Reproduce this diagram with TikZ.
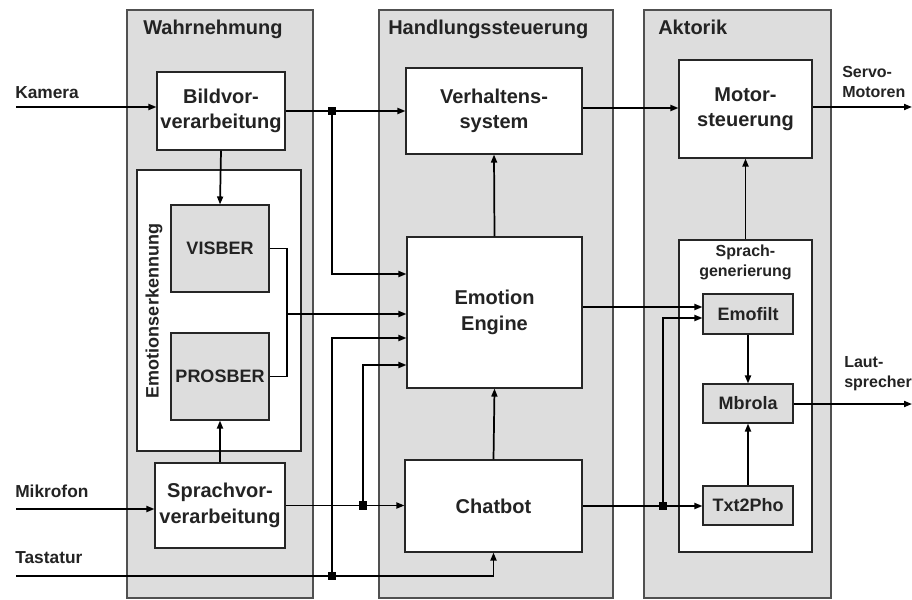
\documentclass[tikz,border=0pt]{standalone}
\usepackage{fontspec}
\setmainfont{Liberation Sans}
\usepackage{tikz}
\usetikzlibrary{arrows.meta}

\definecolor{panelgray}{RGB}{221,221,221}
\definecolor{textgray}{RGB}{35,35,35}
\definecolor{framegray}{RGB}{80,80,80}

\begin{document}
\begin{tikzpicture}[x=0.75pt, y=-0.75pt,
    panel/.style={fill=panelgray, draw=framegray, line width=0.8pt},
    title/.style={anchor=base west, inner sep=0pt, text=textgray, font=\fontsize{15}{18}\selectfont\bfseries},
    block/.style={draw=black!85, line width=0.8pt, fill=white, align=center, inner sep=0pt, text=textgray, font=\fontsize{15}{19}\selectfont\bfseries},
    subblock/.style={block, fill=panelgray, font=\fontsize{13.5}{16}\selectfont\bfseries},
    signal/.style={anchor=base west, inner sep=0pt, text=textgray, font=\fontsize{13}{16}\selectfont\bfseries},
    outlabel/.style={anchor=west, inner sep=0pt, align=left, text=textgray, font=\fontsize{12}{15}\selectfont\bfseries},
    line/.style={line width=1.3pt},
    arr/.style={line, -{Triangle[length=6pt, width=4.5pt]}},
    dot/.style={fill=black, inner sep=0pt, minimum size=6.5pt}]

    \useasboundingbox (0,0) rectangle (912,599);

    % Panels
    \fill[white] (0,0) rectangle (912,599);
    \draw[panel] (127,10) rectangle (313,598);
    \draw[panel] (379,10) rectangle (613,598);
    \draw[panel] (644,10) rectangle (831,598);
    \node[title] (wahr) at (143,35) {Wahrnehmung};
    \node[title] (handl) at (388,35) {Handlungssteuerung};
    \node[title] (akt) at (658,35) {Aktorik};

    % Wahrnehmung
    \node[block, minimum width=96pt, minimum height=58.5pt] (bild) at (221,111) {Bildvor-\\verarbeitung};
    \node[block, minimum width=123pt, minimum height=210.75pt] (emoerk) at (219,310.5) {};
    \node[subblock, rotate=90, draw=none, fill=none] (emolabel) at (154,311) {Emotionserkennung};
    \node[subblock, minimum width=73.5pt, minimum height=65.25pt] (visber) at (220,248.5) {VISBER};
    \node[subblock, minimum width=73.5pt, minimum height=65.25pt] (prosber) at (220,376.5) {PROSBER};
    \node[block, minimum width=97.5pt, minimum height=63.75pt] (sprachvor) at (220,505.5) {Sprachvor-\\verarbeitung};

    % Handlungssteuerung
    \node[block, minimum width=132pt, minimum height=64.5pt] (verhalten) at (494,111) {Verhaltens-\\system};
    \node[block, minimum width=131.25pt, minimum height=113.25pt] (engine) at (494.5,312.5) {Emotion\\Engine};
    \node[block, minimum width=132.75pt, minimum height=69pt] (chatbot) at (493.5,506) {Chatbot};

    % Aktorik
    \node[block, minimum width=99.75pt, minimum height=73.5pt] (motor) at (745.5,109) {Motor-\\steuerung};
    \node[block, minimum width=99.75pt, minimum height=234pt] (sprachgen) at (745.5,396) {};
    \node[anchor=north, align=center, inner sep=0pt, text=textgray, font=\fontsize{12}{15}\selectfont\bfseries] (sgtext) at (745.5,245) {Sprach-\\generierung};
    \node[subblock, minimum width=67.5pt, minimum height=30pt] (emofilt) at (748,314) {Emofilt};
    \node[subblock, minimum width=67.5pt, minimum height=29.25pt] (mbrola) at (748,403.5) {Mbrola};
    \node[subblock, minimum width=67.5pt, minimum height=29.25pt] (txt2pho) at (748,505.5) {Txt2Pho};

    % Inputs and outputs
    \node[signal] (kamera) at (15,99) {Kamera};
    \node[signal] (mikrofon) at (15,497) {Mikrofon};
    \node[signal] (tastatur) at (15,563) {Tastatur};
    \node[outlabel] (servolabel) at (842,82) {Servo-\\Motoren};
    \node[outlabel] (lautlabel) at (844,374) {Laut-\\sprecher};
    \coordinate (kamin) at (16,107);
    \coordinate (mikin) at (16,509);
    \coordinate (tastin) at (16,576);
    \coordinate (servo) at (912,107);
    \coordinate (laut) at (912,404);

    % Junctions
    \coordinate (j1) at (332,111);
    \coordinate (j2) at (363,505.5);
    \coordinate (j3) at (332,576);
    \coordinate (j4) at (663,506);
    \coordinate (brk) at (287,314);

    % Connectors
    \draw[arr] (kamin) -- (kamin -| bild.west);
    \draw[arr] (bild.east) -- (verhalten.west);
    \draw[arr] (j1) |- (engine.west |- 0,274);
    \draw[arr] (bild.south) -- (visber.north);
    \draw[line] (visber.east) -| (brk) |- (prosber.east);
    \draw[arr] (brk) -- (brk -| engine.west);
    \draw[arr] (sprachvor.north) -- (prosber.south);
    \draw[arr] (mikin) -- (mikin -| sprachvor.west);
    \draw[arr] (sprachvor.east) -- (sprachvor.east -| chatbot.west);
    \draw[arr] (j2) |- (engine.west |- 0,365);
    \draw[arr] (tastin) -| (chatbot.south);
    \draw[arr] (j3) |- (engine.west |- 0,338);
    \draw[arr] (chatbot.north) -- (engine.south);
    \draw[arr] (engine.north) -- (verhalten.south);
    \draw[arr] (verhalten.east |- 0,108) -- (motor.west |- 0,108);
    \draw[arr] (motor.east |- servo) -- (servo);
    \draw[arr] (sprachgen.north) -- (motor.south);
    \draw[arr] (engine.east |- 0,307) -- (emofilt.west |- 0,307);
    \draw[arr] (chatbot.east) -- (chatbot.east -| txt2pho.west);
    \draw[arr] (j4) |- (emofilt.west |- 0,318);
    \draw[arr] (emofilt.south) -- (mbrola.north);
    \draw[arr] (txt2pho.north) -- (mbrola.south);
    \draw[arr] (mbrola.east |- laut) -- (laut);

    % Junction dots
    \foreach \j in {j1,j2,j3,j4}
        \node[dot] at (\j) {};
\end{tikzpicture}
\end{document}
